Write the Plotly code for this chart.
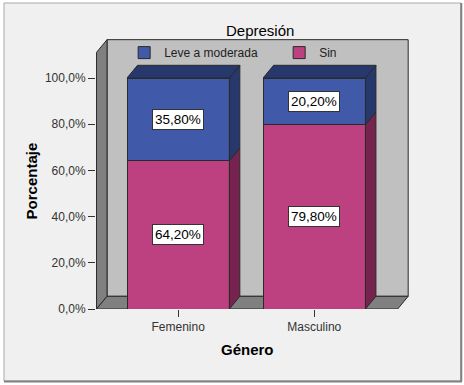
import plotly.graph_objects as go

# ---- data ----
categories = ["Femenino", "Masculino"]
sin_values = [64.2, 79.8]
leve_values = [35.8, 20.2]
series_names = ["Leve a moderada", "Sin"]
legend_title = "Depresión"
y_tick_values = [0, 20, 40, 60, 80, 100]
y_tick_labels = ["0,0%", "20,0%", "40,0%", "60,0%", "80,0%", "100,0%"]

# ---- style / geometry constants ----
FONT = "Liberation Sans, Arial, sans-serif"
C_BLUE, C_BLUE_D = "#4059a8", "#27386c"
C_MAG, C_MAG_D = "#bd4080", "#76244f"
C_WALL, C_WALL_D = "#c0c0c0", "#808080"
EDGE = "#2a2a2a"
BAR_W = 0.752
DX, DY = 0.077, 5.5          # 3D depth offset (x units, y units)
X_LO, X_HI = -0.6, 1.613     # front floor extent
Y_TOP = 116.6                # back wall top
X_RANGE = [X_LO - 0.004, X_HI + DX + 0.006]
Y_RANGE = [0, 129.44]

xs = list(range(len(categories)))

fig = go.Figure()

# front faces of the stacked bars
fig.add_trace(go.Bar(x=xs, y=sin_values, name=series_names[1], width=BAR_W,
                     marker=dict(color=C_MAG, line=dict(color=EDGE, width=1)),
                     hoverinfo="skip", legendrank=2))
fig.add_trace(go.Bar(x=xs, y=leve_values, name=series_names[0], width=BAR_W,
                     marker=dict(color=C_BLUE, line=dict(color=EDGE, width=1)),
                     hoverinfo="skip", legendrank=1))


def poly(px, py, color):
    fig.add_trace(go.Scatter(x=px + [px[0]], y=py + [py[0]], mode="lines",
                             fill="toself", fillcolor=color,
                             line=dict(color=EDGE, width=1),
                             hoverinfo="skip", showlegend=False))


annotations = []
for i, x in enumerate(xs):
    x1 = x + BAR_W / 2
    x0 = x - BAR_W / 2
    base = 0
    for v, cd in ((sin_values[i], C_MAG_D), (leve_values[i], C_BLUE_D)):
        top = base + v
        # right side face
        poly([x1, x1 + DX, x1 + DX, x1], [base, base + DY, top + DY, top], cd)
        annotations.append(dict(
            x=x, y=base + v / 2, xref="x", yref="y",
            text=f"{v:.2f}".replace(".", ",") + "%", showarrow=False,
            font=dict(family=FONT, size=13.5, color="black"),
            bgcolor="white", bordercolor="#333333", borderwidth=1, borderpad=2))
        base = top
    # top face
    poly([x0, x1, x1 + DX, x0 + DX], [base, base, base + DY, base + DY], C_BLUE_D)

# frame, walls and floor (background)
shapes = [
    dict(type="rect", xref="paper", yref="paper", x0=-0.294, x1=1.166, y0=-0.2408, y1=1.0234,
         fillcolor="#f0f0f0", line=dict(color="#a8a8a8", width=1), layer="below"),
    dict(type="line", xref="paper", yref="paper", x0=1.167, x1=1.167, y0=-0.2425, y1=1.0234,
         line=dict(color="#808080", width=2), layer="below"),
    dict(type="line", xref="paper", yref="paper", x0=-0.294, x1=1.169, y0=-0.2425, y1=-0.2425,
         line=dict(color="#808080", width=2), layer="below"),
    dict(type="rect", xref="x", yref="y", x0=X_LO + DX, x1=X_HI + DX, y0=DY, y1=Y_TOP,
         fillcolor=C_WALL, line=dict(color=EDGE, width=1), layer="below"),
    dict(type="path", xref="x", yref="y",
         path=f"M{X_LO},0 L{X_LO},{Y_TOP - DY} L{X_LO + DX},{Y_TOP} L{X_LO + DX},{DY} Z",
         fillcolor=C_WALL_D, line=dict(color=EDGE, width=1), layer="below"),
    dict(type="path", xref="x", yref="y",
         path=f"M{X_LO},0 L{X_HI},0 L{X_HI + DX},{DY} L{X_LO + DX},{DY} Z",
         fillcolor=C_WALL_D, line=dict(color=EDGE, width=1), layer="below"),
]

annotations.append(dict(x=(X_LO + X_HI) / 2, y=-0.1338, xref="x", yref="paper",
                        xanchor="center", yanchor="middle",
                        text="<b>Género</b>", showarrow=False,
                        font=dict(family=FONT, size=15, color="black")))
annotations.append(dict(x=-0.2054, y=(Y_TOP - DY) / 2, xref="paper", yref="y",
                        xanchor="center", yanchor="middle",
                        text="<b>Porcentaje</b>", showarrow=False, textangle=-90,
                        font=dict(family=FONT, size=15, color="black")))
annotations.append(dict(x=0.524, y=0.932, xref="paper", yref="paper",
                        xanchor="center", yanchor="middle",
                        text=legend_title, showarrow=False,
                        font=dict(family=FONT, size=15, color="black")))

fig.update_layout(
    width=464, height=385,
    margin=dict(l=96, r=55, t=10, b=76),
    paper_bgcolor="white", plot_bgcolor="rgba(0,0,0,0)",
    barmode="stack",
    font=dict(family=FONT, size=12, color="#333333"),
    shapes=shapes, annotations=annotations,
    legend=dict(orientation="h", x=0.09, xanchor="left", y=0.906, yanchor="top",
                bgcolor="rgba(0,0,0,0)", traceorder="normal",
                font=dict(family=FONT, size=12, color="#222222"),
                entrywidth=110, itemclick=False),
    xaxis=dict(range=X_RANGE, tickvals=xs, ticktext=categories, ticks="outside",
               ticklen=7, tickcolor="#333333", showgrid=False, zeroline=False,
               showline=False, tickfont=dict(family=FONT, size=12, color="#333333")),
    yaxis=dict(range=Y_RANGE, tickvals=y_tick_values, ticktext=y_tick_labels,
               ticks="outside", ticklen=7, tickcolor="#333333", showgrid=False,
               zeroline=False, showline=False,
               tickfont=dict(family=FONT, size=12, color="#333333")),
)

fig.write_html("out.html", config={"displayModeBar": False},
               post_script="document.body.style.margin='0px';")
